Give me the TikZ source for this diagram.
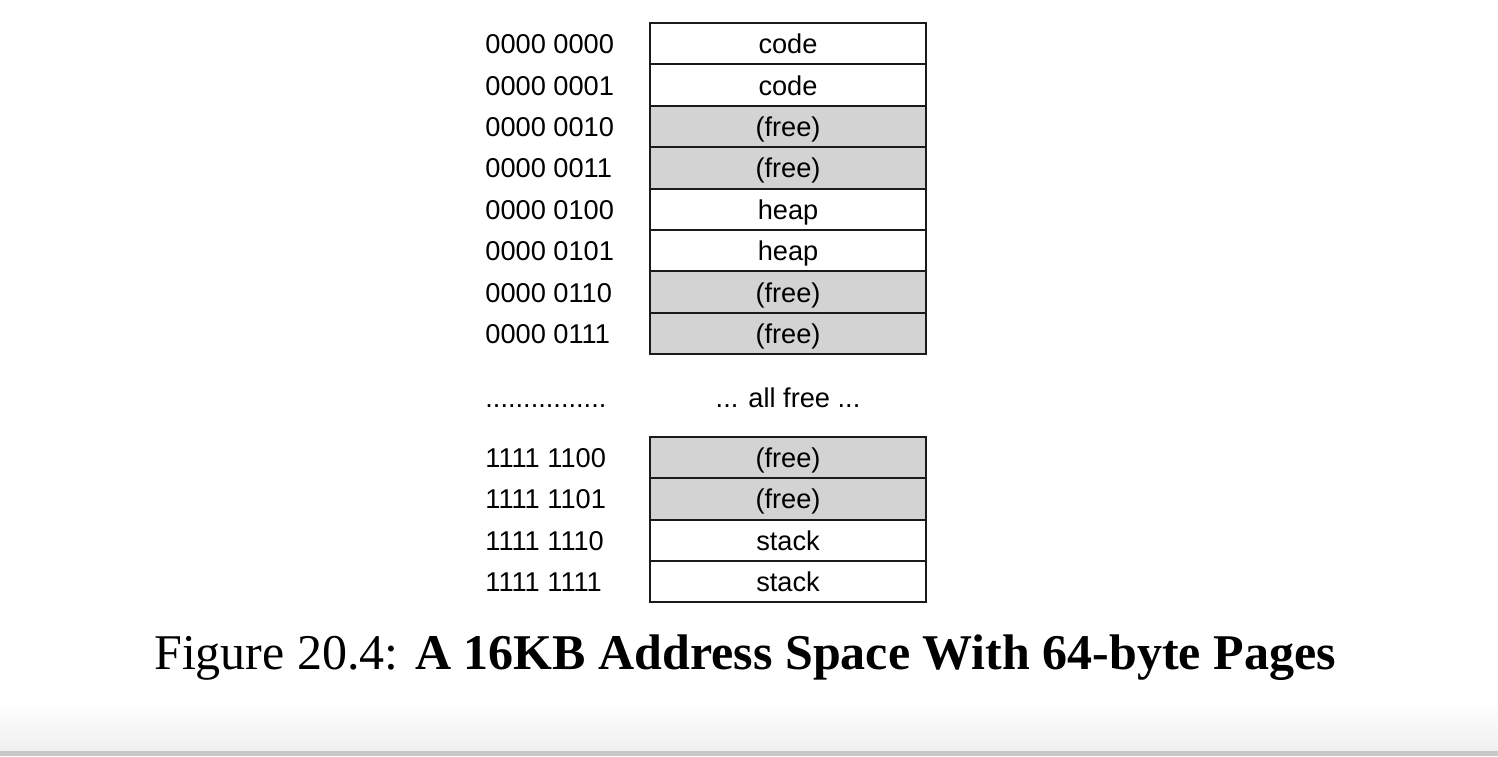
\documentclass[tikz,border=0pt]{standalone}
\usepackage{fontspec}
\setmainfont{Liberation Serif}
\newfontfamily\cellfont{Liberation Sans}
\definecolor{pgFree}{HTML}{D3D3D3}
\definecolor{pgLine}{HTML}{1A1A1A}
\usetikzlibrary{positioning}

\begin{document}
\begin{tikzpicture}[x=0.5pt, y=-0.5pt,
  page/.style={draw=pgLine, line width=1pt, fill=white, text=black,
    minimum width=138pt, minimum height=20.7pt, inner sep=0pt, outer sep=0pt,
    text height=11.5pt, text depth=1.5pt,
    font=\cellfont\fontsize{13.6}{15}\selectfont},
  freepage/.style={page, fill=pgFree},
  addr/.style={anchor=west, inner sep=0pt, text height=11.5pt, text depth=1.5pt,
    font=\cellfont\fontsize{13.6}{15}\selectfont}
]
  \useasboundingbox (0,0) rectangle (1498,756);
  \shade[top color=white, bottom color=black!6] (0,700) rectangle (1498,751);
  \fill[black!22] (0,751) rectangle (1498,756);

  % first pages of the address space
  \node[page] (p0) at (788,43.7) {code};
  \node[page] (p1) at (788,85.1) {code};
  \node[freepage] (p2) at (788,126.5) {(free)};
  \node[freepage] (p3) at (788,167.9) {(free)};
  \node[page] (p4) at (788,209.3) {heap};
  \node[page] (p5) at (788,250.7) {heap};
  \node[freepage] (p6) at (788,292.1) {(free)};
  \node[freepage] (p7) at (788,333.5) {(free)};

  \node[addr] (a0) at (485,43.7) {0000 0000};
  \node[addr] (a1) at (485,85.1) {0000 0001};
  \node[addr] (a2) at (485,126.5) {0000 0010};
  \node[addr] (a3) at (485,167.9) {0000 0011};
  \node[addr] (a4) at (485,209.3) {0000 0100};
  \node[addr] (a5) at (485,250.7) {0000 0101};
  \node[addr] (a6) at (485,292.1) {0000 0110};
  \node[addr] (a7) at (485,333.5) {0000 0111};

  % gap
  \node[addr] (adots) at (485,397) {................};
  \node[addr, anchor=center] (gap) at (788,397) {... all free ...};

  % last pages of the address space
  \node[freepage] (p252) at (788,457.6) {(free)};
  \node[freepage] (p253) at (788,498.9) {(free)};
  \node[page] (p254) at (788,540.2) {stack};
  \node[page] (p255) at (788,581.5) {stack};

  \node[addr] (a252) at (485,457.6) {1111 1100};
  \node[addr] (a253) at (485,498.9) {1111 1101};
  \node[addr] (a254) at (485,540.2) {1111 1110};
  \node[addr] (a255) at (485,581.5) {1111 1111};

  % Caption
  \node[font=\fontsize{25}{29}\selectfont, inner sep=0pt, anchor=base] (caption) at (745,669)
    {Figure 20.4: \textbf{A 16KB Address Space With 64-byte Pages}};
\end{tikzpicture}
\end{document}
